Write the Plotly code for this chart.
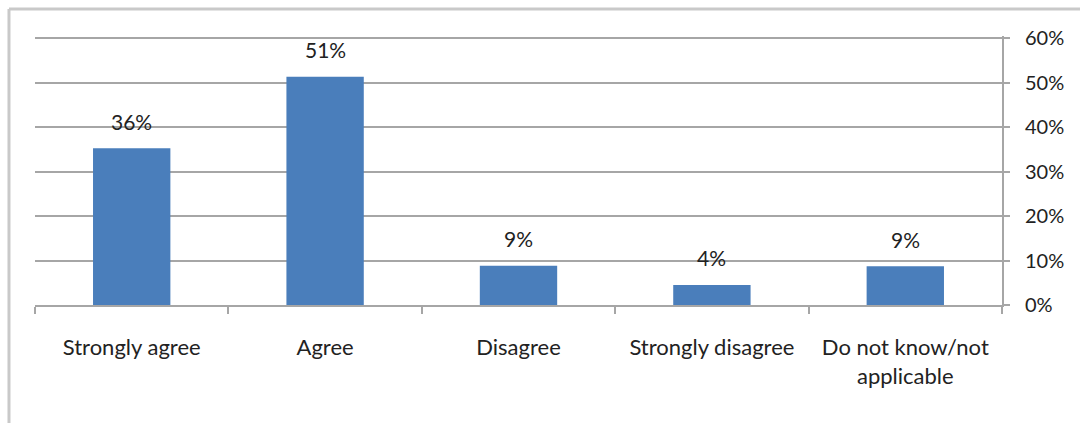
import plotly.graph_objects as go

categories = ["Strongly agree", "Agree", "Disagree", "Strongly disagree", "Do not know/not<br>applicable"]
values = [0.352, 0.513, 0.088, 0.045, 0.087]
value_labels = ["36%", "51%", "9%", "4%", "9%"]
y_ticks = [0, 0.1, 0.2, 0.3, 0.4, 0.5, 0.6]
y_tick_labels = ["0%", "10%", "20%", "30%", "40%", "50%", "60%"]

FONT = "Lato"
TXT = "#222222"
GRID = "#a6a6a6"

fig = go.Figure()
fig.add_trace(go.Bar(
    x=categories, y=values,
    marker=dict(color="#4a7ebb", line=dict(width=0)),
    showlegend=False, hoverinfo="skip",
))

for c, v, t in zip(categories, values, value_labels):
    fig.add_annotation(x=c, y=v, text=t, showarrow=False, yanchor="middle",
                       yshift=27, font=dict(family=FONT, size=21, color=TXT))

# outer frame (top and left edges visible in the reference)
fig.add_shape(type="line", xref="paper", yref="paper", x0=-0.0269, x1=1.1,
              y0=1.1004, y1=1.1004, line=dict(color="#c9c9c9", width=3))
fig.add_shape(type="line", xref="paper", yref="paper", x0=-0.0269, x1=-0.0269,
              y0=1.1004, y1=-0.5, line=dict(color="#c9c9c9", width=3))

fig.update_layout(
    width=1080, height=423,
    margin=dict(l=35, r=78, t=36, b=118),
    paper_bgcolor="white", plot_bgcolor="white",
    bargap=0.6,
    font=dict(family=FONT, size=19, color=TXT),
    xaxis=dict(
        type="category", showgrid=False, showline=True, linecolor=GRID, linewidth=2,
        ticks="outside", tickson="boundaries", ticklen=7, tickcolor=GRID, tickwidth=2,
        tickfont=dict(family=FONT, size=22, color=TXT), ticklabelstandoff=22,
        fixedrange=True,
    ),
    yaxis=dict(
        side="right", range=[0, 0.6045], tickvals=y_ticks, ticktext=y_tick_labels,
        showgrid=True, gridcolor=GRID, gridwidth=2, zeroline=False,
        showline=True, linecolor=GRID, linewidth=2,
        ticks="outside", ticklen=6, tickcolor=GRID, tickwidth=2,
        tickfont=dict(family=FONT, size=20, color=TXT), ticklabelstandoff=11,
        fixedrange=True,
    ),
)

fig.write_html("out.html")
